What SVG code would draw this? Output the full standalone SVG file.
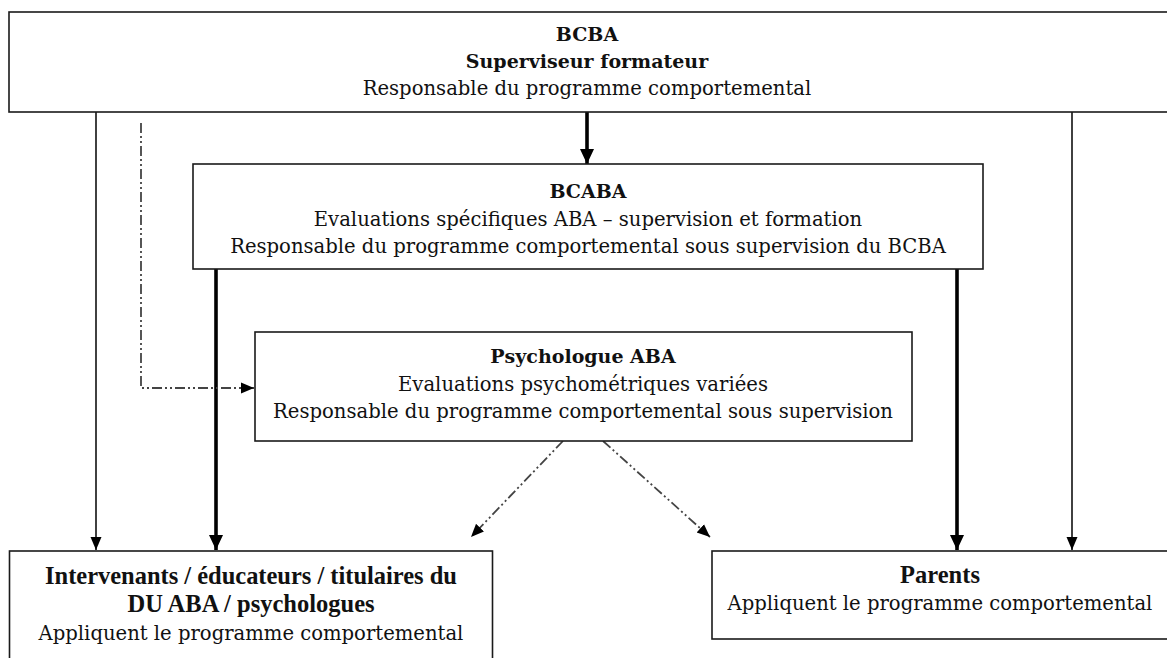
<svg xmlns="http://www.w3.org/2000/svg" width="1167" height="658" viewBox="0 0 1167 658">
<style>
.box{fill:#fff;stroke:#1a1a1a;stroke-width:1.6}
.t{font-family:"DejaVu Serif","Liberation Serif",serif;font-size:19.6px;fill:#111;text-anchor:middle}
.b{font-weight:bold;font-size:19px}
.tb{font-family:"Liberation Serif","DejaVu Serif",serif;font-size:24.5px;font-weight:bold;fill:#111;text-anchor:middle}
.thin{stroke:#111;stroke-width:1.6;fill:none}
.thick{stroke:#000;stroke-width:3.6;fill:none}
.dd{stroke:#444;stroke-width:1.8;fill:none;stroke-dasharray:10 3 2 3 2 3}
</style>
<defs>
<marker id="ah" markerUnits="userSpaceOnUse" markerWidth="14" markerHeight="14" viewBox="0 0 14 14" refX="13" refY="7" orient="auto">
<path d="M0,1.5 L13,7 L0,12.5 Z" fill="#000"/>
</marker>
<marker id="ahb" markerUnits="userSpaceOnUse" markerWidth="16" markerHeight="16" viewBox="0 0 16 16" refX="15" refY="8" orient="auto">
<path d="M0,1 L15,8 L0,15 Z" fill="#000"/>
</marker>
</defs>
<rect width="1167" height="658" fill="#fff"/>
<g id="connectors">
<line class="thin" x1="96" y1="112" x2="96" y2="550" marker-end="url(#ah)"/>
<line class="thin" x1="1072" y1="112" x2="1072" y2="550" marker-end="url(#ah)"/>
<line class="thick" x1="587" y1="112" x2="587" y2="164" marker-end="url(#ahb)"/>
<line class="thick" x1="216" y1="269" x2="216" y2="550" marker-end="url(#ahb)"/>
<line class="thick" x1="957" y1="269" x2="957" y2="550" marker-end="url(#ahb)"/>
<polyline class="dd" points="141,123 141,388 254,388" marker-end="url(#ah)"/>
<line class="dd" x1="563" y1="441" x2="471" y2="537" marker-end="url(#ah)"/>
<line class="dd" x1="603" y1="441" x2="710" y2="537" marker-end="url(#ah)"/>
</g>
<g id="bcba">
<rect class="box" x="9" y="12" width="1165" height="100"/>
<text class="t b" x="587" y="41">BCBA</text>
<text class="t b" x="587" y="68">Superviseur formateur</text>
<text class="t" x="587" y="95">Responsable du programme comportemental</text>
</g>
<g id="bcaba">
<rect class="box" x="193" y="164" width="790" height="105"/>
<text class="t b" x="588" y="198">BCABA</text>
<text class="t" x="588" y="226">Evaluations spécifiques ABA – supervision et formation</text>
<text class="t" x="588" y="253">Responsable du programme comportemental sous supervision du BCBA</text>
</g>
<g id="psychologue">
<rect class="box" x="255" y="332" width="657" height="109"/>
<text class="t b" x="583" y="363">Psychologue ABA</text>
<text class="t" x="583" y="391">Evaluations psychométriques variées</text>
<text class="t" x="583" y="418">Responsable du programme comportemental sous supervision</text>
</g>
<g id="intervenants">
<rect class="box" x="9.5" y="551" width="483" height="120"/>
<text class="tb" x="251" y="584" textLength="412" lengthAdjust="spacing">Intervenants / éducateurs / titulaires du</text>
<text class="tb" x="251" y="612">DU ABA / psychologues</text>
<text class="t" x="251" y="640">Appliquent le programme comportemental</text>
</g>
<g id="parents">
<rect class="box" x="712" y="551" width="460" height="88"/>
<text class="tb" x="940" y="583">Parents</text>
<text class="t" x="940" y="610">Appliquent le programme comportemental</text>
</g>
</svg>
